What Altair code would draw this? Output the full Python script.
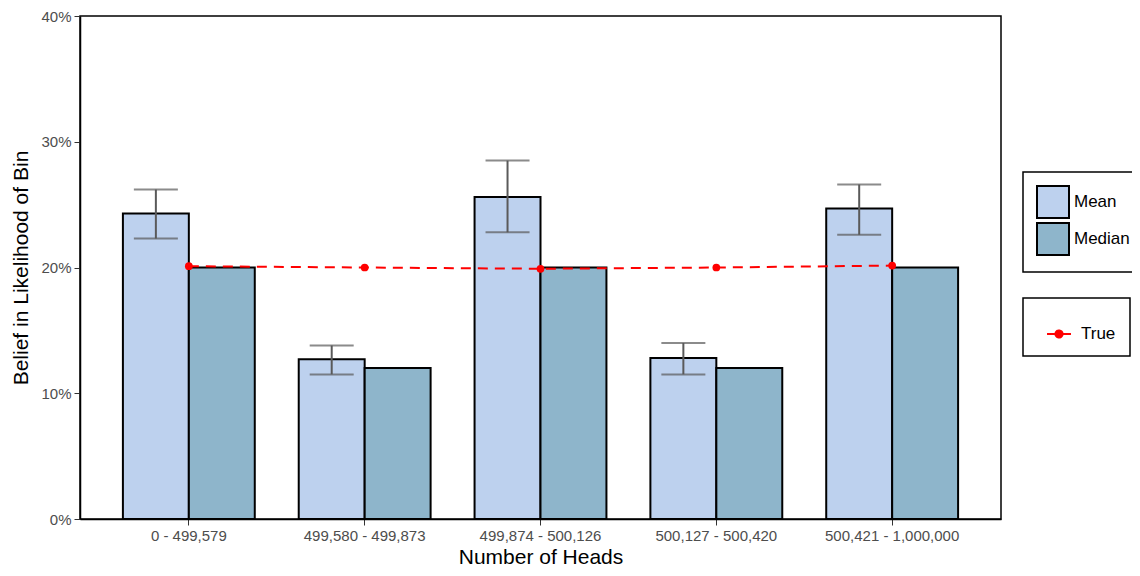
import altair as alt
import pandas as pd

categories = ["0 - 499,579", "499,580 - 499,873", "499,874 - 500,126",
              "500,127 - 500,420", "500,421 - 1,000,000"]
mean_vals = [0.243, 0.127, 0.256, 0.128, 0.247]
median_vals = [0.20, 0.12, 0.20, 0.12, 0.20]
err_lo = [0.223, 0.115, 0.228, 0.115, 0.226]
err_hi = [0.262, 0.138, 0.285, 0.140, 0.266]
true_vals = [0.201, 0.200, 0.199, 0.200, 0.2015]

stats = ["Mean", "Median"]

bars = pd.DataFrame({
    "cat": categories * 2,
    "stat": ["Mean"] * 5 + ["Median"] * 5,
    "val": mean_vals + median_vals,
})
errs = pd.DataFrame({"cat": categories, "stat": ["Mean"] * 5,
                     "lo": err_lo, "hi": err_hi})
truth = pd.DataFrame({"cat": categories, "val": true_vals, "series": ["True"] * 5})

FONT = "Liberation Sans"

x_enc = alt.X("cat:N", sort=categories, title="Number of Heads",
              scale=alt.Scale(paddingInner=0.25, paddingOuter=0.244),
              axis=alt.Axis(labelAngle=0, labelFontSize=15, labelColor="#4d4d4d",
                            titleFontSize=21, titleColor="black", titleFontWeight="normal",
                            domainColor="black", domainWidth=1.5, tickColor="#333333",
                            tickSize=6, labelPadding=3, titlePadding=3, grid=False))
y_scale = alt.Scale(domain=[0, 0.4])
y_axis = alt.Axis(format="%", values=[0, 0.1, 0.2, 0.3, 0.4], labelFontSize=15,
                  labelColor="#4d4d4d", titleFontSize=21, titleColor="black",
                  titleFontWeight="normal", domainColor="black", domainWidth=1.5,
                  tickColor="#333333", tickSize=6, labelPadding=3, titlePadding=9,
                  grid=False)
xoff = alt.XOffset("stat:N", sort=stats, scale=alt.Scale(domain=stats, paddingInner=0, paddingOuter=0))

fill_legend = alt.Legend(title=None, orient="none", legendX=943, legendY=156,
                         symbolType="square", symbolSize=1024, symbolStrokeColor="black",
                         symbolStrokeWidth=2, labelFontSize=17, labelColor="black",
                         strokeColor="black", padding=13, rowPadding=-14,
                         labelOffset=4, offset=0)

bar_layer = alt.Chart(bars).mark_bar(stroke="black", strokeWidth=2).encode(
    x=x_enc,
    xOffset=xoff,
    y=alt.Y("val:Q", scale=y_scale, axis=y_axis, title="Belief in Likelihood of Bin"),
    fill=alt.Fill("stat:N", sort=stats,
                  scale=alt.Scale(domain=stats, range=["#bdd1ee", "#8eb5cb"]),
                  legend=fill_legend),
)

err_rule = alt.Chart(errs).mark_rule(color="#5a5a5a", strokeWidth=2).encode(
    x=alt.X("cat:N", sort=categories), xOffset=xoff,
    y="lo:Q", y2="hi:Q")
err_lo_tick = alt.Chart(errs).mark_tick(color="#5a5a5a", thickness=2, size=44).encode(
    x=alt.X("cat:N", sort=categories), xOffset=xoff, y="lo:Q")
err_hi_tick = alt.Chart(errs).mark_tick(color="#5a5a5a", thickness=2, size=44).encode(
    x=alt.X("cat:N", sort=categories), xOffset=xoff, y="hi:Q")

true_path = "M-0.57,0L0.57,0M-0.17,0A0.17,0.17,0,1,1,0.17,0A0.17,0.17,0,1,1,-0.17,0Z"
true_legend = alt.Legend(title=None, orient="none", legendX=943, legendY=282,
                         symbolType=true_path, symbolSize=1764, symbolFillColor="red",
                         symbolStrokeColor="red", symbolStrokeWidth=2,
                         symbolDash=[1, 0],
                         labelFontSize=17, labelColor="black", strokeColor="black",
                         padding=14, labelOffset=0)

true_line = alt.Chart(truth).mark_line(strokeDash=[10, 7], strokeWidth=2).encode(
    x=alt.X("cat:N", sort=categories),
    y="val:Q",
    stroke=alt.Stroke("series:N", scale=alt.Scale(domain=["True"], range=["red"]),
                      legend=true_legend),
)
true_pts = alt.Chart(truth).mark_point(filled=True, size=60, color="red", opacity=1).encode(
    x=alt.X("cat:N", sort=categories),
    y="val:Q",
)

chart = alt.layer(bar_layer, err_rule, err_lo_tick, err_hi_tick, true_line, true_pts).properties(
    width=921, height=503,
    autosize=alt.AutoSizeParams(type="none"),
    padding={"left": 72, "top": 8, "right": 131, "bottom": 49},
).configure(font=FONT).configure_view(
    stroke="black", strokeWidth=1.5
).configure_legend(strokeWidth=1.5)

chart.save("out.html", embed_options={"renderer": "svg", "actions": False})
